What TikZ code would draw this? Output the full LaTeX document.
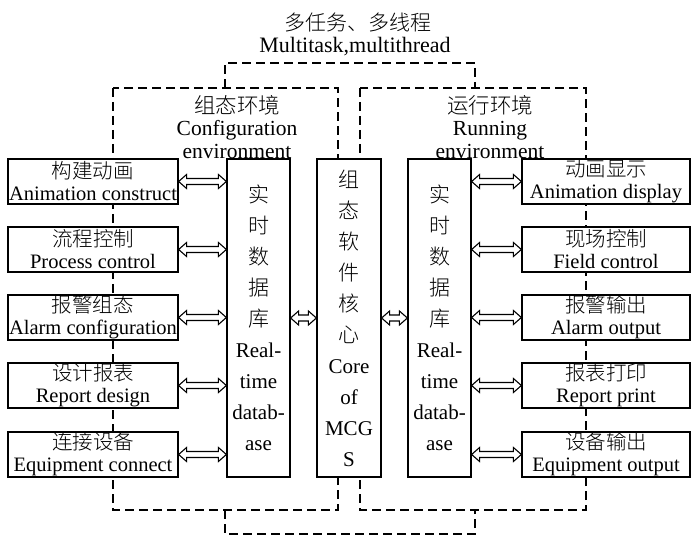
\documentclass[tikz,border=0pt]{standalone}
\usepackage{fontspec}
\setmainfont{Liberation Serif}
\newfontfamily\cjk{Noto Sans CJK SC}[UprightFont=* Light]
\usetikzlibrary{calc}
\begin{document}
\begin{tikzpicture}[x=1pt,y=-1pt,
  box/.style={draw, line width=1.2pt, fill=white, inner sep=0pt, align=center},
  sidebox/.style={box, minimum width=170pt, minimum height=45pt, font=\fontsize{20.5}{22}\selectfont},
  rsidebox/.style={sidebox, minimum width=168pt},
  colbox/.style={box, minimum width=63pt, minimum height=318pt, font=\fontsize{21}{31}\selectfont},
  dsh/.style={line width=1.3pt, dash pattern=on 9pt off 5pt},
  lbl/.style={inner sep=0pt, align=center, font=\fontsize{21}{22.5}\selectfont},
  dblarr/.style={line width=1.1pt, line join=miter, to path={let \p1=(\tikztostart), \p2=(\tikztotarget) in
    (\x1,\y1) -- (\x1+8pt,\y1+7pt) -- (\x1+8pt,\y1+3pt) -- (\x2-8pt,\y1+3pt) -- (\x2-8pt,\y1+7pt) -- (\x2,\y1)
    -- (\x2-8pt,\y1-7pt) -- (\x2-8pt,\y1-3pt) -- (\x1+8pt,\y1-3pt) -- (\x1+8pt,\y1-7pt) -- cycle}}
]
\useasboundingbox (0,0) rectangle (691,540);

% dashed environment frames
\draw[dsh] (113,88) rectangle (338,510);
\draw[dsh] (360,88) rectangle (586,510);
\draw[dsh] (225,88) -- (225,63) -- (475,63) -- (475,88);
\draw[dsh] (225,510) -- (225,534) -- (475,534) -- (475,510);

% top labels
\node[lbl] (mt1) at (358,23) {\cjk 多任务、多线程};
\node[lbl, font=\fontsize{22}{22.5}\selectfont] (mt2) at (355,47) {Multitask,multithread};
\node[lbl, font=\fontsize{21.5}{22.5}\selectfont] (cfg) at (237,127) {{\cjk 组态环境}\\Configuration\\environment};
\node[lbl, font=\fontsize{21.5}{22.5}\selectfont] (run) at (490,127) {{\cjk 运行环境}\\Running\\environment};

% left boxes
\node[sidebox] (l1) at (93,181.5) {{\cjk 构建动画}\\Animation construct};
\node[sidebox] (l2) at (93,249.5) {{\cjk 流程控制}\\Process control};
\node[sidebox] (l3) at (93,317.5) {{\cjk 报警组态}\\Alarm configuration};
\node[sidebox] (l4) at (93,385.5) {{\cjk 设计报表}\\Report design};
\node[sidebox] (l5) at (93,454.5) {{\cjk 连接设备}\\Equipment connect};

% right boxes
\node[rsidebox] (r1) at (606,181.5) {{\cjk 动画显示}\\Animation display};
\node[rsidebox] (r2) at (606,249.5) {{\cjk 现场控制}\\Field control};
\node[rsidebox] (r3) at (606,317.5) {{\cjk 报警输出}\\Alarm output};
\node[rsidebox] (r4) at (606,385.5) {{\cjk 报表打印}\\Report print};
\node[rsidebox] (r5) at (606,454.5) {{\cjk 设备输出}\\Equipment output};

% column boxes
\node[colbox] (ldb) at (258.5,318) {{\cjk 实}\\{\cjk 时}\\{\cjk 数}\\{\cjk 据}\\{\cjk 库}\\Real-\\time\\datab-\\ase};
\node[colbox, minimum width=64pt] (core) at (349,318) {{\cjk 组}\\{\cjk 态}\\{\cjk 软}\\{\cjk 件}\\{\cjk 核}\\{\cjk 心}\\Core\\of\\MCG\\S};
\node[colbox] (rdb) at (439.5,318) {{\cjk 实}\\{\cjk 时}\\{\cjk 数}\\{\cjk 据}\\{\cjk 库}\\Real-\\time\\datab-\\ase};

% arrows
\foreach \i in {1,...,5} {
  \draw[dblarr] (l\i.east) to (ldb.west |- l\i.east);
  \draw[dblarr] (rdb.east |- r\i.west) to (r\i.west);
}
\draw[dblarr] (ldb.east) to (core.west);
\draw[dblarr] (core.east) to (rdb.west);
\end{tikzpicture}
\end{document}
